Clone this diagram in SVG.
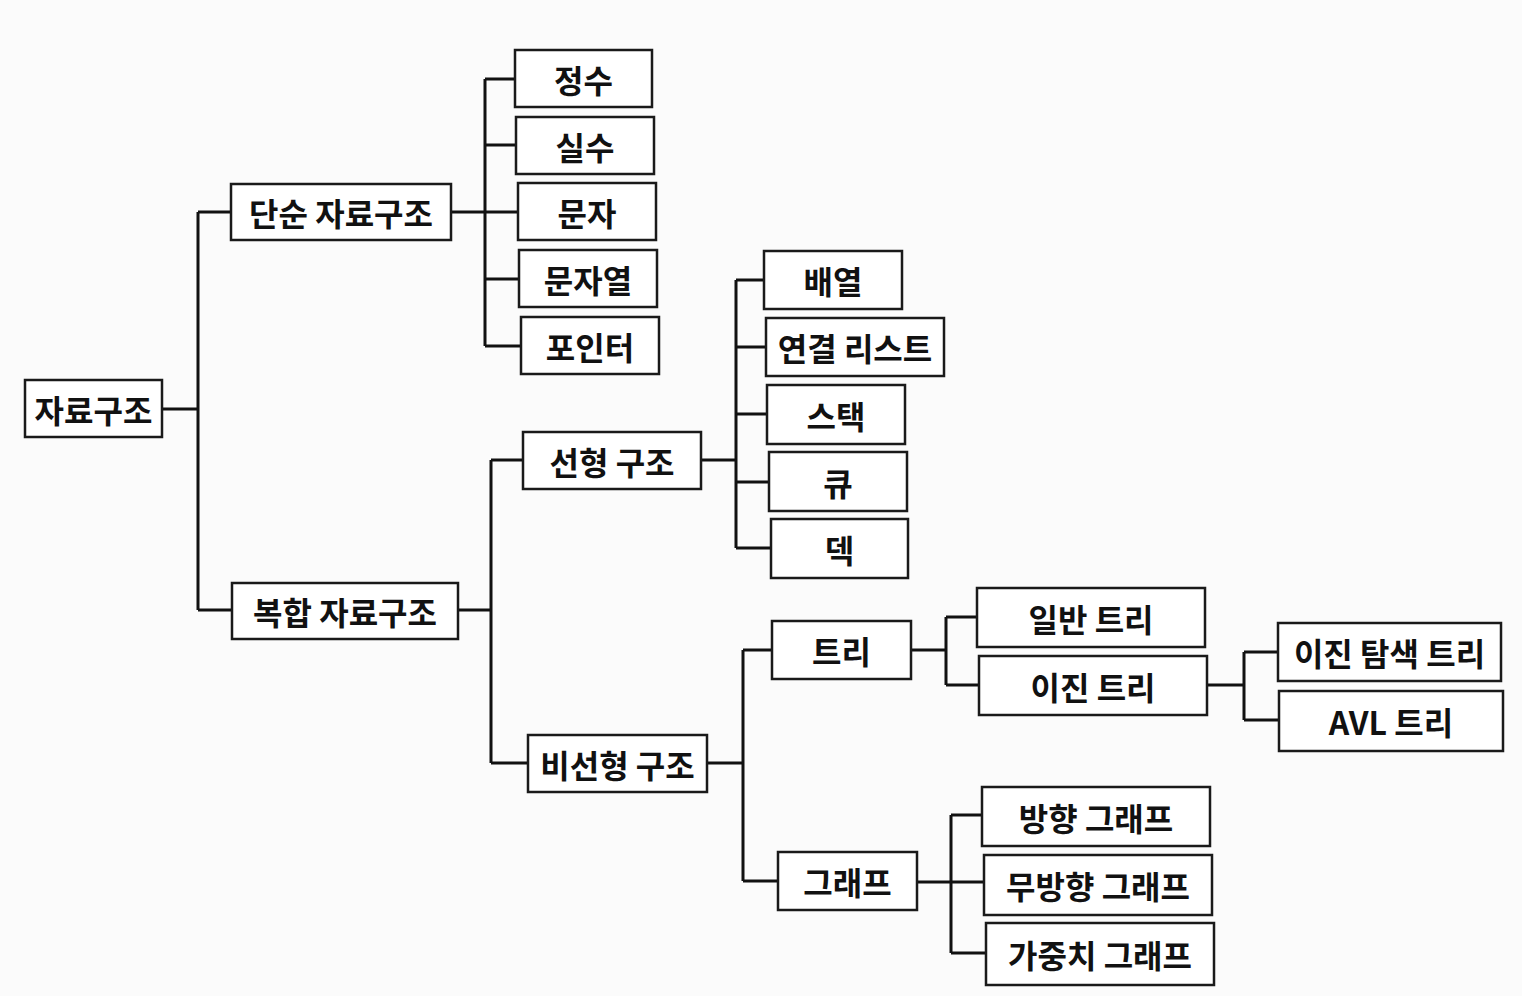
<svg xmlns="http://www.w3.org/2000/svg" width="1522" height="996" viewBox="0 0 1522 996">
<style>
.n rect{fill:#ffffff;stroke:#1a1a1a;stroke-width:2.5}
.n text{font-family:"Noto Sans CJK KR","Noto Sans",sans-serif;font-size:32px;font-weight:700;fill:#111;text-anchor:middle;dominant-baseline:central}
#edges path{fill:none;stroke:#111;stroke-width:3}
</style>
<rect width="1522" height="996" fill="#fbfbfb"/>
<g id="edges">
<path d="M162 409H198M198 212V610M198 212H231M198 610H232"/>
<path d="M451 212H518M485 79V346M485 79H515M485 145H516M485 279H519M485 346H521"/>
<path d="M458 610H491M491 460V763M491 460H523M491 763H528"/>
<path d="M701 460H736M736 280V548M736 280H764M736 347H766M736 414H767M736 482H769M736 548H771"/>
<path d="M707 763H743M743 650V881M743 650H772M743 881H778"/>
<path d="M911 650H946M946 617V685M946 617H977M946 685H979"/>
<path d="M1207 685H1244M1244 652V720M1244 652H1278M1244 720H1279"/>
<path d="M917 882H984M951 815V953M951 815H982M951 953H986"/>
</g>
<g id="n-root" class="n"><rect x="25" y="380" width="137" height="57"/><text x="93.5" y="408.5">자료구조</text></g>
<g id="n-simple" class="n"><rect x="231" y="184" width="220" height="56"/><text x="341" y="212">단순 자료구조</text></g>
<g id="n-compound" class="n"><rect x="232" y="583" width="226" height="56"/><text x="345" y="611">복합 자료구조</text></g>
<g id="n-int" class="n"><rect x="515" y="50" width="137" height="57"/><text x="583.5" y="78.5">정수</text></g>
<g id="n-real" class="n"><rect x="516" y="117" width="138" height="57"/><text x="585" y="145.5">실수</text></g>
<g id="n-char" class="n"><rect x="518" y="183" width="138" height="57"/><text x="587" y="211.5">문자</text></g>
<g id="n-string" class="n"><rect x="519" y="250" width="138" height="57"/><text x="588" y="278.5">문자열</text></g>
<g id="n-pointer" class="n"><rect x="521" y="317" width="138" height="57"/><text x="590" y="345.5">포인터</text></g>
<g id="n-linear" class="n"><rect x="523" y="432" width="178" height="57"/><text x="612" y="460.5">선형 구조</text></g>
<g id="n-nonlinear" class="n"><rect x="528" y="735" width="179" height="57"/><text x="617.5" y="763.5">비선형 구조</text></g>
<g id="n-array" class="n"><rect x="764" y="251" width="138" height="58"/><text x="833" y="280">배열</text></g>
<g id="n-linkedlist" class="n"><rect x="766" y="318" width="178" height="58"/><text x="855" y="347">연결 리스트</text></g>
<g id="n-stack" class="n"><rect x="767" y="385" width="138" height="59"/><text x="836" y="414.5">스택</text></g>
<g id="n-queue" class="n"><rect x="769" y="452" width="138" height="59"/><text x="838" y="481.5">큐</text></g>
<g id="n-deque" class="n"><rect x="771" y="519" width="137" height="59"/><text x="839.5" y="548.5">덱</text></g>
<g id="n-tree" class="n"><rect x="772" y="621" width="139" height="58"/><text x="841.5" y="650">트리</text></g>
<g id="n-graph" class="n"><rect x="778" y="852" width="139" height="58"/><text x="847.5" y="881">그래프</text></g>
<g id="n-generaltree" class="n"><rect x="977" y="588" width="228" height="59"/><text x="1091" y="617.5">일반 트리</text></g>
<g id="n-binarytree" class="n"><rect x="979" y="656" width="228" height="59"/><text x="1093" y="685.5">이진 트리</text></g>
<g id="n-bst" class="n"><rect x="1278" y="623" width="223" height="58"/><text x="1389.5" y="652">이진 탐색 트리</text></g>
<g id="n-avl" class="n"><rect x="1279" y="691" width="224" height="60"/><text x="1391" y="721">AVL 트리</text></g>
<g id="n-directed" class="n"><rect x="982" y="787" width="228" height="59"/><text x="1096" y="816.5">방향 그래프</text></g>
<g id="n-undirected" class="n"><rect x="984" y="855" width="228" height="60"/><text x="1098" y="885">무방향 그래프</text></g>
<g id="n-weighted" class="n"><rect x="986" y="923" width="228" height="62"/><text x="1100" y="954">가중치 그래프</text></g>
</svg>
